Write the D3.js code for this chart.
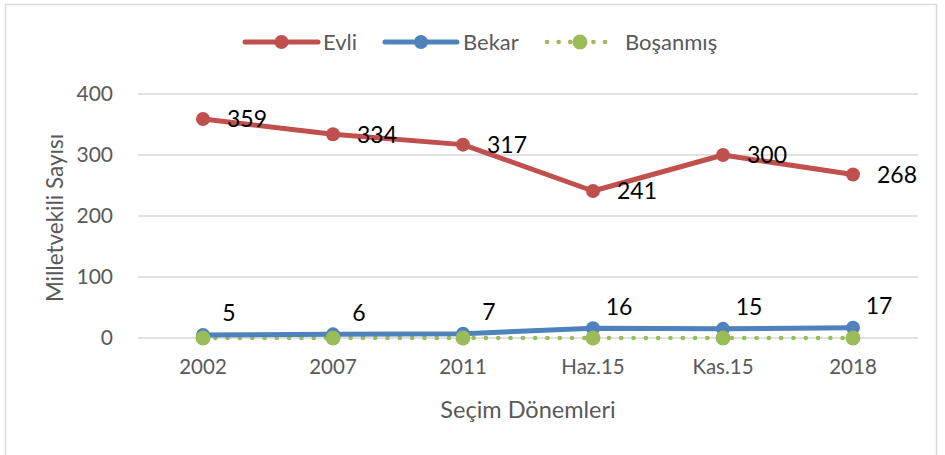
<!DOCTYPE html>
<html><head><meta charset="utf-8">
<script src="https://cdn.jsdelivr.net/npm/d3@7"></script>
<style>
html,body{margin:0;padding:0;background:#fff;}
svg{display:block;font-family:Lato,"Open Sans",sans-serif;}
</style></head>
<body><svg id="c" width="945" height="455"></svg>
<script>
const categories = ["2002","2007","2011","Haz.15","Kas.15","2018"];
const evli = [359,334,317,241,300,268];
const bekar = [5,6,7,16,15,17];
const bosanmis = [0,0,0,0,0,0];
const yTicks = [0,100,200,300,400];
const seriesNames = ["Evli","Bekar","Boşanmış"];
const yTitle = "Milletvekili Sayısı";
const xTitle = "Seçim Dönemleri";

const svg = d3.select("#c");
const m = {left:138, right:918, top:94, bottom:338};
const x = d3.scaleBand().domain(categories).range([m.left,m.right]);
const y = d3.scaleLinear().domain([0,400]).range([m.bottom,m.top]);
const cx = d => x(d) + x.bandwidth()/2;

// border
svg.append("rect").attr("x",5.5).attr("y",4.5).attr("width",931).attr("height",460)
  .attr("fill","none").attr("stroke","#d9d9d9").attr("stroke-width",1.5);

// gridlines
svg.append("g").selectAll("line").data(yTicks).join("line")
  .attr("x1",m.left).attr("x2",m.right)
  .attr("y1",d=>y(d)).attr("y2",d=>y(d))
  .attr("stroke","#d9d9d9").attr("stroke-width",1.5);

// y axis labels
const yAxis = d3.axisLeft(y).tickValues(yTicks).tickSize(0).tickPadding(0);
const ya = svg.append("g").attr("transform",`translate(${m.left-25},0)`).call(yAxis);
ya.select(".domain").remove();
ya.selectAll("text").attr("font-size",21).attr("fill","#595959").attr("font-family","Lato");

// x axis labels
const xAxis = d3.axisBottom(x).tickSize(0).tickPadding(0);
const xa = svg.append("g").attr("transform",`translate(0,${m.bottom+21})`).call(xAxis);
xa.select(".domain").remove();
xa.selectAll("text").attr("font-size",20.5).attr("fill","#595959").attr("font-family","Lato");

// axis titles
svg.append("text").attr("transform",`translate(63,${(m.top+m.bottom)/2+2}) rotate(-90)`)
  .attr("text-anchor","middle").attr("font-size",22.5).attr("fill","#595959").text(yTitle);
svg.append("text").attr("x",(m.left+m.right)/2).attr("y",418)
  .attr("text-anchor","middle").attr("font-size",23.5).attr("fill","#595959").text(xTitle);

const line = d3.line().x((d,i)=>cx(categories[i])).y(d=>y(d));
const colors = ["#c0504d","#4f81bd","#9bbb59"];

// Boşanmış (dotted)
svg.append("path").datum(bosanmis).attr("d",line).attr("fill","none")
  .attr("stroke",colors[2]).attr("stroke-width",4.5).attr("stroke-linecap","round")
  .attr("stroke-dasharray","0.1,12.2");
// Bekar
svg.append("path").datum(bekar).attr("d",line).attr("fill","none")
  .attr("stroke",colors[1]).attr("stroke-width",5).attr("stroke-linejoin","round");
svg.append("g").selectAll("circle").data(bekar).join("circle")
  .attr("cx",(d,i)=>cx(categories[i])).attr("cy",d=>y(d)).attr("r",7).attr("fill",colors[1]);
svg.append("g").selectAll("circle").data(bosanmis).join("circle")
  .attr("cx",(d,i)=>cx(categories[i])).attr("cy",d=>y(d)).attr("r",7.5).attr("fill",colors[2]);
// Evli
svg.append("path").datum(evli).attr("d",line).attr("fill","none")
  .attr("stroke",colors[0]).attr("stroke-width",5).attr("stroke-linejoin","round");
svg.append("g").selectAll("circle").data(evli).join("circle")
  .attr("cx",(d,i)=>cx(categories[i])).attr("cy",d=>y(d)).attr("r",7).attr("fill",colors[0]);

// data labels
svg.append("g").selectAll("text").data(evli).join("text")
  .attr("x",(d,i)=>cx(categories[i])+24).attr("y",d=>y(d)).attr("dy","0.36em")
  .attr("font-size",23).attr("fill","#000").text(d=>d);
svg.append("g").selectAll("text").data(bekar).join("text")
  .attr("x",(d,i)=>cx(categories[i])+26).attr("y",d=>y(d)-22).attr("dy","0.36em")
  .attr("text-anchor","middle").attr("font-size",23).attr("fill","#000").text(d=>d);

// legend
const leg = [{x:245,w:73,c:colors[0],dot:false,tx:323},{x:385,w:72,c:colors[1],dot:false,tx:463},{x:547,w:66,c:colors[2],dot:true,tx:625}];
const lg = svg.append("g");
leg.forEach((l,i)=>{
  const ly = 42;
  const p = lg.append("line").attr("x1",l.x).attr("x2",l.x+l.w).attr("y1",ly).attr("y2",ly)
    .attr("stroke",l.c).attr("stroke-width",l.dot?4.5:5).attr("stroke-linecap","round");
  if(l.dot) p.attr("stroke-dasharray","0.1,11.5");
  lg.append("circle").attr("cx",l.x+l.w/2).attr("cy",ly).attr("r",l.dot?7.5:7).attr("fill",l.c);
  lg.append("text").attr("x",l.tx).attr("y",ly).attr("dy","0.36em")
    .attr("font-size",22).attr("fill","#595959").text(seriesNames[i]);
});
</script></body></html>
